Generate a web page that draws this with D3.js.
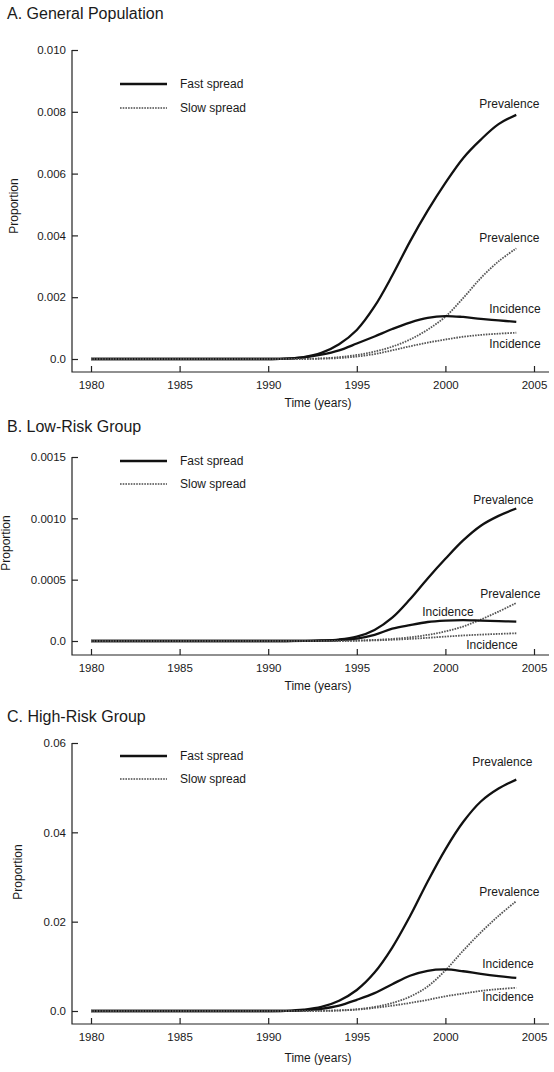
<!DOCTYPE html>
<html>
<head>
<meta charset="utf-8">
<script src="https://cdn.jsdelivr.net/npm/d3@7"></script>
<style>
  body { margin: 0; background: #fff; }
  svg text { font-family: "Liberation Sans", Arial, Helvetica, sans-serif; fill: #1a1a1a; }
</style>
</head>
<body>
<svg id="grafico" width="554" height="1072"></svg>
<script>
const years = [1980, 1981, 1982, 1983, 1984, 1985, 1986, 1987, 1988, 1989, 1990, 1991, 1992,
               1993, 1994, 1995, 1996, 1997, 1998, 1999, 2000, 2001, 2002, 2003, 2004];

// A. General Population
const aFastPrev = [0, 0, 0, 0, 0, 0, 0, 0, 0, 0, 0, 0.00001, 0.00006, 0.0002, 0.00048, 0.00094,
                   0.0017, 0.0027, 0.0038, 0.0048, 0.0057, 0.0065, 0.0071, 0.0076, 0.0079];
const aFastInc = [0, 0, 0, 0, 0, 0, 0, 0, 0, 0, 0, 0.00001, 0.00005, 0.00014, 0.00028, 0.0005,
                  0.00073, 0.00097, 0.00118, 0.00133, 0.00139, 0.00136, 0.0013, 0.00125, 0.0012];
const aSlowPrev = [0, 0, 0, 0, 0, 0, 0, 0, 0, 0, 0, 0, 0.000005, 0.00002, 0.00006, 0.00013,
                   0.00024, 0.0004, 0.00063, 0.00095, 0.00137, 0.00197, 0.00262, 0.00316, 0.00358];
const aSlowInc = [0, 0, 0, 0, 0, 0, 0, 0, 0, 0, 0, 0, 0.000003, 0.00001, 0.00003, 0.00008,
                  0.00016, 0.00028, 0.00041, 0.00053, 0.00063, 0.00072, 0.00078, 0.00082, 0.00085];
const aTicks = [0, 0.002, 0.004, 0.006, 0.008, 0.010];
const aTickLabels = ["0.0", "0.002", "0.004", "0.006", "0.008", "0.010"];

// B. Low-Risk Group
const bFastPrev = [0, 0, 0, 0, 0, 0, 0, 0, 0, 0, 0, 0, 0.000001, 0.000004, 0.000012, 0.000035,
                   0.00009, 0.00019, 0.00034, 0.00051, 0.00067, 0.00082, 0.00094, 0.00102, 0.00108];
const bFastInc = [0, 0, 0, 0, 0, 0, 0, 0, 0, 0, 0, 0, 0.000001, 0.000003, 0.000008, 0.00002,
                  0.00005, 0.0001, 0.00013, 0.000155, 0.000166, 0.00017, 0.000166, 0.000162, 0.000158];
const bSlowPrev = [0, 0, 0, 0, 0, 0, 0, 0, 0, 0, 0, 0, 0, 0, 0.000001, 0.000004,
                   0.000009, 0.000017, 0.00003, 0.00005, 0.000078, 0.000118, 0.000175, 0.00024, 0.00031];
const bSlowInc = [0, 0, 0, 0, 0, 0, 0, 0, 0, 0, 0, 0, 0, 0, 0.0000005, 0.000002,
                  0.000005, 0.00001, 0.000017, 0.000026, 0.000036, 0.000045, 0.000052, 0.000058, 0.000063];
const bTicks = [0, 0.0005, 0.0010, 0.0015];
const bTickLabels = ["0.0", "0.0005", "0.0010", "0.0015"];

// C. High-Risk Group
const cFastPrev = [0, 0, 0, 0, 0, 0, 0, 0, 0, 0, 0, 0.00005, 0.0003, 0.0009, 0.0023, 0.0047,
                   0.0086, 0.0142, 0.0212, 0.029, 0.0362, 0.0423, 0.0469, 0.0498, 0.0518];
const cFastInc = [0, 0, 0, 0, 0, 0, 0, 0, 0, 0, 0, 0.00003, 0.00015, 0.0005, 0.0012, 0.0025,
                  0.004, 0.006, 0.0079, 0.009, 0.0093, 0.0089, 0.0083, 0.0078, 0.0074];
const cSlowPrev = [0, 0, 0, 0, 0, 0, 0, 0, 0, 0, 0, 0, 0.00001, 0.00005, 0.00015, 0.0004,
                   0.0009, 0.0018, 0.0032, 0.0055, 0.0091, 0.0135, 0.0176, 0.0213, 0.0246];
const cSlowInc = [0, 0, 0, 0, 0, 0, 0, 0, 0, 0, 0, 0, 0.000005, 0.00002, 0.0001, 0.0003,
                  0.0007, 0.0012, 0.0018, 0.0025, 0.0033, 0.0039, 0.0045, 0.0049, 0.0052];
const cTicks = [0, 0.02, 0.04, 0.06];
const cTickLabels = ["0.0", "0.02", "0.04", "0.06"];

const xTicks = [1980, 1985, 1990, 1995, 2000, 2005];
const panelTitles = ["A. General Population", "B. Low-Risk Group", "C. High-Risk Group"];
const legendLabels = ["Fast spread", "Slow spread"];
const xLabel = "Time (years)";
const yLabel = "Proportion";


const svg = d3.select("#grafico");

const estilo = {
    fast: { stroke: "#111", width: 2.3, dash: null },
    slow: { stroke: "#555", width: 1.8, dash: "1.6,1.1" }
};

// layout of each panel (pixels)
const paineis = [
    {
        title: panelTitles[0], titleY: 13, top: 50, zero: 359, axisY: 372, legendY: [84, 108],
        ylabX: 14, ylabY: 206, xlabY: 403,
        ticks: aTicks, tickLabels: aTickLabels,
        series: [
            { v: aFastPrev, s: "fast", label: "Prevalence", dx: -37, dy: -11 },
            { v: aSlowPrev, s: "slow", label: "Prevalence", dx: -37, dy: -10 },
            { v: aFastInc, s: "fast", label: "Incidence", dx: -27, dy: -13 },
            { v: aSlowInc, s: "slow", label: "Incidence", dx: -27, dy: 11 }
        ]
    },
    {
        title: panelTitles[1], titleY: 426, top: 457, zero: 641, axisY: 655, legendY: [461, 484],
        ylabX: 6, ylabY: 543, xlabY: 686,
        ticks: bTicks, tickLabels: bTickLabels,
        series: [
            { v: bFastPrev, s: "fast", label: "Prevalence", dx: -43, dy: -9 },
            { v: bSlowPrev, s: "slow", label: "Prevalence", dx: -36, dy: -9 },
            { v: bFastInc, s: "fast", label: "Incidence", dx: -94, dy: -10 },
            { v: bSlowInc, s: "slow", label: "Incidence", dx: -50, dy: 12 }
        ]
    },
    {
        title: panelTitles[2], titleY: 716, top: 743, zero: 1011, axisY: 1024, legendY: [756, 779],
        ylabX: 18, ylabY: 872, xlabY: 1058,
        ticks: cTicks, tickLabels: cTickLabels,
        series: [
            { v: cFastPrev, s: "fast", label: "Prevalence", dx: -44, dy: -18 },
            { v: cSlowPrev, s: "slow", label: "Prevalence", dx: -37, dy: -9 },
            { v: cFastInc, s: "fast", label: "Incidence", dx: -34, dy: -14 },
            { v: cSlowInc, s: "slow", label: "Incidence", dx: -34, dy: 9 }
        ]
    }
];

const xLeft = 72, xRight = 549;

const xScale = d3.scaleLinear()
    .domain([1980, 2005])
    .range([91, 534]);

paineis.forEach(p => desenharPainel(p));

function desenharPainel(p) {
    const maxTick = p.ticks[p.ticks.length - 1];
    const yScale = d3.scaleLinear()
        .domain([0, maxTick])
        .range([p.zero, p.top]);

    const g = svg.append("g");

    // title
    g.append("text")
        .attr("x", 7).attr("y", p.titleY)
        .attr("dominant-baseline", "central")
        .style("font-size", "16px")
        .text(p.title);

    // L-shaped frame
    g.append("path")
        .attr("d", `M${xLeft},${yScale(maxTick)}V${p.axisY}H${xRight}`)
        .attr("fill", "none")
        .attr("stroke", "#222")
        .attr("stroke-width", 1.2);

    // y axis
    const yAxis = d3.axisLeft(yScale)
        .tickValues(p.ticks)
        .tickFormat((d, i) => p.tickLabels[i])
        .tickSize(-6)
        .tickSizeOuter(0)
        .tickPadding(6);

    const gy = g.append("g")
        .attr("transform", `translate(${xLeft},0)`)
        .call(yAxis);
    gy.select(".domain").remove();
    gy.selectAll("line").attr("stroke", "#222").attr("stroke-width", 1.2);
    gy.selectAll("text").style("font-size", "11.5px").attr("fill", "#1a1a1a");

    // x axis
    const xAxis = d3.axisBottom(xScale)
        .tickValues(xTicks)
        .tickFormat(d3.format("d"))
        .tickSize(-6)
        .tickSizeOuter(0)
        .tickPadding(9);

    const gx = g.append("g")
        .attr("transform", `translate(0,${p.axisY})`)
        .call(xAxis);
    gx.select(".domain").remove();
    gx.selectAll("line").attr("stroke", "#222").attr("stroke-width", 1.2);
    gx.selectAll("text").style("font-size", "11.5px").attr("fill", "#1a1a1a");

    // axis titles
    g.append("text")
        .attr("x", 318).attr("y", p.xlabY)
        .attr("text-anchor", "middle")
        .attr("dominant-baseline", "central")
        .style("font-size", "12px")
        .text(xLabel);

    g.append("text")
        .attr("transform", `translate(${p.ylabX},${p.ylabY}) rotate(-90)`)
        .attr("text-anchor", "middle")
        .attr("dominant-baseline", "central")
        .style("font-size", "12px")
        .text(yLabel);

    // curves
    const linha = d3.line()
        .x((d, i) => xScale(years[i]))
        .y(d => yScale(Math.max(0, d)))
        .curve(d3.curveCatmullRom.alpha(0.5));

    p.series.forEach(serie => {
        const st = estilo[serie.s];
        g.append("path")
            .datum(serie.v)
            .attr("d", linha)
            .attr("fill", "none")
            .attr("stroke", st.stroke)
            .attr("stroke-width", st.width)
            .attr("stroke-dasharray", st.dash);

        const n = serie.v.length - 1;
        g.append("text")
            .attr("x", xScale(years[n]) + serie.dx)
            .attr("y", yScale(serie.v[n]) + serie.dy)
            .attr("dominant-baseline", "central")
            .style("font-size", "12px")
            .text(serie.label);
    });

    // legend
    ["fast", "slow"].forEach((k, i) => {
        const st = estilo[k];
        g.append("line")
            .attr("x1", 120).attr("x2", 167)
            .attr("y1", p.legendY[i]).attr("y2", p.legendY[i])
            .attr("stroke", k === "fast" ? st.stroke : "#777")
            .attr("stroke-width", st.width)
            .attr("stroke-dasharray", st.dash);
        g.append("text")
            .attr("x", 180).attr("y", p.legendY[i])
            .attr("dominant-baseline", "central")
            .style("font-size", "12px")
            .text(legendLabels[i]);
    });
}
</script>
</body>
</html>
